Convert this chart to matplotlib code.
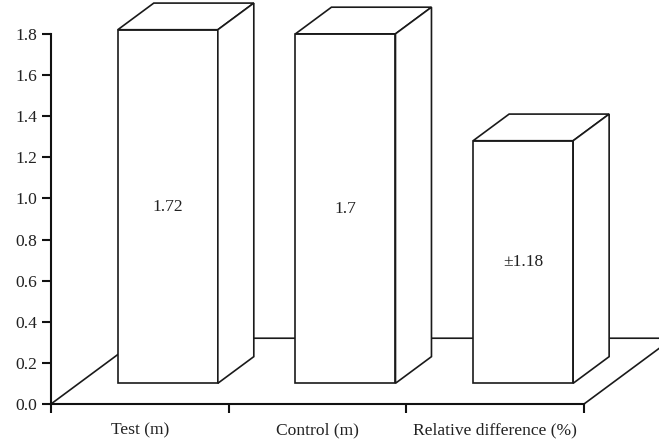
import matplotlib
matplotlib.use("Agg")
import matplotlib.pyplot as plt
from matplotlib.patches import Polygon
import numpy as np

categories = ["Test (m)", "Control (m)", "Relative difference (%)"]
values = [1.72, 1.7, 1.18]
value_labels = ["1.72", "1.7", "\u00b11.18"]
yticks = [0.0, 0.2, 0.4, 0.6, 0.8, 1.0, 1.2, 1.4, 1.6, 1.8]

# oblique depth vector of the floor (data units) and where the bars sit in it
depth = np.array([0.5, 0.32])
bar_front, bar_back = 0.315, 0.72
bar_width = 0.563

plt.rcParams["font.family"] = ["Liberation Serif", "DejaVu Serif"]
plt.rcParams["font.size"] = 12.6

fig = plt.figure(figsize=(6.59, 4.46), dpi=100)
ax = fig.add_axes([51 / 659, 42 / 446, 533 / 659, 370 / 446])
ax.set_xlim(0, 3)
ax.set_ylim(0, 1.8)

n = len(categories)
lw = 1.2


def face(pts, z):
    ax.add_patch(Polygon(pts, closed=True, facecolor="white", edgecolor="#1a1a1a",
                         linewidth=lw, joinstyle="miter", clip_on=False, zorder=z))


# floor
floor = [(0, 0), (n, 0), (n + depth[0], depth[1]), (depth[0], depth[1])]
face(floor, 1)

for i, (v, lab) in enumerate(zip(values, value_labels)):
    cx = i + 0.5
    x0 = cx - bar_width / 2 + depth[0] * bar_front
    x1 = x0 + bar_width
    y0 = depth[1] * bar_front
    y1 = y0 + v
    d = depth * (bar_back - bar_front)
    z = 3 + i
    face([(x0, y0), (x1, y0), (x1, y1), (x0, y1)], z)
    face([(x0, y1), (x1, y1), (x1 + d[0], y1 + d[1]), (x0 + d[0], y1 + d[1])], z)
    face([(x1, y0), (x1 + d[0], y0 + d[1]), (x1 + d[0], y1 + d[1]), (x1, y1)], z)
    ax.text((x0 + x1) / 2, y0 + v / 2, lab, ha="center", va="center",
            color="#222222", zorder=10)

for s in ["top", "right"]:
    ax.spines[s].set_visible(False)
for s in ["left", "bottom"]:
    ax.spines[s].set_linewidth(1.5)
    ax.spines[s].set_color("#111111")
    ax.spines[s].set_zorder(20)

ax.set_yticks(yticks)
ax.set_yticklabels(["%.1f" % t for t in yticks])
ax.tick_params(axis="y", direction="out", length=6.5, width=1.5, pad=3.5,
               colors="#111111", labelcolor="#222222")

ax.set_xticks(np.arange(n + 1))
ax.set_xticklabels([])
ax.tick_params(axis="x", which="major", direction="out", length=6.5, width=1.5,
               colors="#111111")
ax.set_xticks(np.arange(n) + 0.5, minor=True)
ax.set_xticklabels(categories, minor=True)
ax.tick_params(axis="x", which="minor", length=0, pad=13, labelcolor="#222222")

fig.savefig("out.png", dpi=100)
